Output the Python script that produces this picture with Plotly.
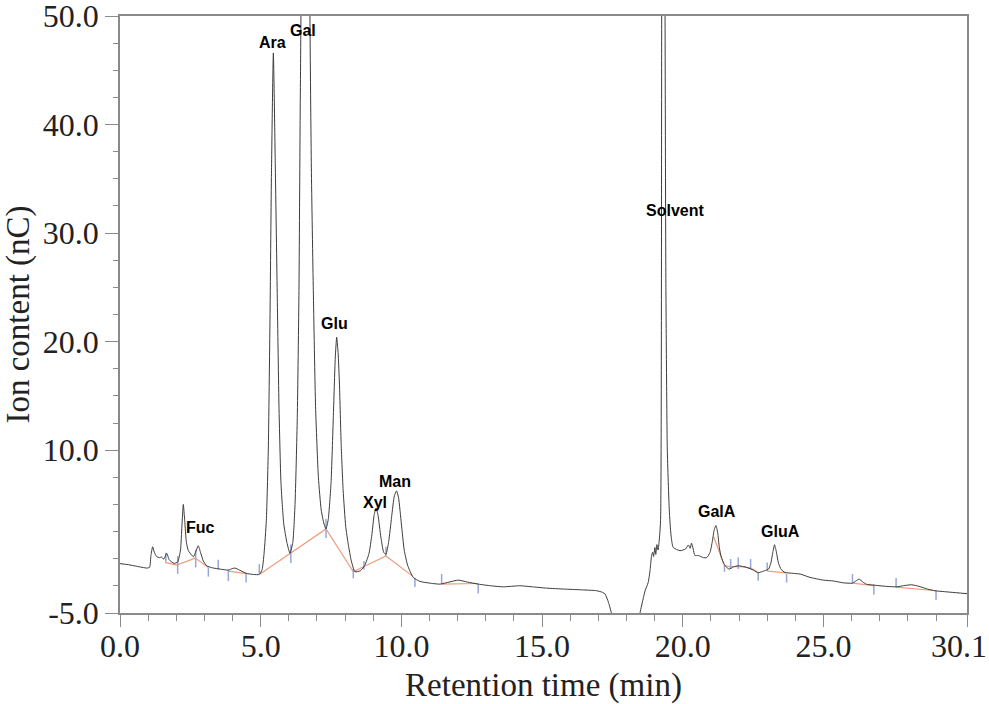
import plotly.graph_objects as go

# chromatogram signal (time in min, ion content in nC)
time_min = [0.00, 0.30, 0.60, 0.95, 1.05, 1.10, 1.16, 1.22, 1.30, 1.40, 1.48, 1.55, 1.66, 1.75, 1.92,
            2.05, 2.15, 2.20, 2.25, 2.30, 2.36, 2.43, 2.61, 2.70, 2.78, 2.86, 2.96, 3.08, 3.30, 3.55,
            3.85, 4.00, 4.09, 4.25, 4.50, 4.75, 4.95,
            5.05, 5.12, 5.20, 5.27, 5.33, 5.38, 5.45, 5.52, 5.59, 5.65, 5.72, 5.82, 5.93, 6.04,
            6.14, 6.22, 6.30, 6.36, 6.40, 6.43, 6.50, 6.60, 6.70, 6.75, 6.80, 6.87, 6.95, 7.05,
            7.15, 7.25, 7.32,
            7.40, 7.50, 7.58, 7.65, 7.70, 7.75, 7.80, 7.86, 7.93, 8.02, 8.11, 8.22, 8.35,
            8.55, 8.70, 8.85, 8.95, 9.03, 9.10, 9.17, 9.27, 9.37, 9.45,
            9.55, 9.65, 9.75, 9.83, 9.90, 10.00, 10.10, 10.22, 10.42, 10.66, 11.10, 11.37,
            11.70, 12.02, 12.35, 12.73, 13.20, 13.62, 14.21, 14.70, 15.16, 15.80, 16.35, 16.94,
            17.15, 17.24, 17.36, 17.47, 17.60, 18.00, 18.35, 18.48, 18.60, 18.66, 18.77, 18.84,
            18.89, 18.93, 18.96, 19.01, 19.04, 19.08, 19.12, 19.16, 19.21, 19.25, 19.28, 19.33,
            19.37, 19.40, 19.45, 19.52, 19.58, 19.66, 19.90, 20.10, 20.20, 20.26, 20.31, 20.37,
            20.43, 20.55, 20.73, 20.85, 20.97, 21.05, 21.12, 21.18, 21.24, 21.30, 21.37, 21.46,
            21.56, 21.65, 21.80, 21.97, 22.15, 22.27, 22.51, 22.68, 22.80, 22.92, 23.05, 23.13,
            23.20, 23.26, 23.32, 23.40, 23.50, 23.63, 23.93, 24.17, 24.52, 24.99, 25.35, 25.70,
            26.03, 26.15, 26.27, 26.40, 26.53, 26.77, 27.25, 27.60, 27.85, 28.13, 28.40, 28.70,
            28.96, 29.50, 30.10]
signal_nc = [-0.45, -0.55, -0.70, -0.86, -0.80, 0.30, 1.10, 0.60, 0.20, 0.10, 0.15, -0.05, 0.50, -0.10, -0.43,
             -0.30, 0.80, 3.00, 5.00, 3.50, 1.50, 0.74, 0.18, 0.70, 1.20, 0.60, -0.20, -0.65, -0.85, -0.95,
             -1.05, -0.90, -0.86, -1.05, -1.36, -1.45, -1.45,
             -1.00, 0.50, 3.50, 10.0, 22.0, 35.0, 46.6, 36.0, 24.0, 14.0, 7.0, 3.2, 1.5, 0.50,
             1.5, 5.0, 13.0, 24.7, 40.0, 50.0, 80.0, 95.0, 80.0, 50.0, 36.0, 24.7, 14.0, 7.5,
             4.5, 3.2, 2.74,
             3.6, 7.0, 13.0, 18.5, 20.4, 19.0, 16.0, 10.5, 6.3, 3.0, 1.36, -0.20, -1.20,
             -1.10, -0.60, 0.50, 2.20, 4.00, 4.68, 4.00, 2.00, 0.60, 0.40,
             1.60, 3.80, 5.80, 6.25, 5.60, 3.20, 0.80, -0.60, -1.72, -2.09, -2.28, -2.34,
             -2.15, -1.97, -2.15, -2.34, -2.50, -2.59, -2.49, -2.60, -2.71, -2.80, -2.86, -2.95,
             -3.10, -3.26, -4.03, -5.10, -8.0, -10.0, -8.0, -5.0, -3.6, -2.95, -2.19, -1.0,
             0.28, 0.60, 0.20, 1.04, 0.40, 1.30, 0.80, 1.60, 3.50, 50.0, 95.0, 100.0,
             50.0, 25.0, 10.0, 4.5, 2.2, 1.04, 0.74, 0.90, 1.27, 0.96, 1.43, 0.90,
             0.30, 0.30, 0.10, 0.10, 0.60, 1.60, 2.70, 3.05, 2.40, 1.00, 0.12, -0.45,
             -0.80, -0.95, -0.75, -0.65, -0.72, -0.80, -1.05, -1.30, -1.20, -1.10, -0.95, -0.40,
             0.60, 1.29, 0.70, -0.40, -1.00, -1.26, -1.35, -1.41, -1.72, -1.97, -2.05, -2.22,
             -2.25, -2.05, -1.88, -2.15, -2.35, -2.43, -2.55, -2.59, -2.48, -2.40, -2.55, -2.80,
             -2.95, -3.08, -3.22]

# integration baselines (None = break between segments)
base_t = [1.60, 2.01, 2.67, 3.14, None, 3.85, 4.48, None,
          4.98, 6.04, 7.32, 8.29, None, 8.29, 9.45, 10.42, None,
          11.43, 12.73, None,
          21.10, 21.48, 21.70, 21.97, 22.41, 22.68, None, 23.00, 23.69, None,
          26.03, 26.79, None, 27.58, 29.00]
base_v = [-0.34, -0.58, 0.06, -0.80, None, -1.15, -1.38, None,
          -1.40, 0.45, 2.75, -1.20, None, -1.20, 0.25, -1.65, None,
          -2.34, -2.28, None,
          2.00, -0.62, -0.75, -0.70, -0.85, -1.26, None, -1.15, -1.30, None,
          -2.25, -2.47, None, -2.62, -2.95]

# peak start / end markers: time, top, bottom
mark_t = [1.63, 2.05, 2.69, 3.14, 3.49, 3.85, 4.48, 4.95, 6.07, 7.32, 8.29, 8.67, 9.45, 10.48,
          11.43, 12.73, 21.48, 21.70, 21.97, 22.41, 22.68, 23.00, 23.69, 26.03, 26.79, 27.58, 29.00]
mark_top = [0.56, 0.26, 0.80, -0.80, -0.10, -1.00, -1.30, -0.50, 1.30, 3.65, -0.90, -0.20, 1.10, -1.75,
            -1.40, -2.30, -0.60, -0.03, 0.12, -0.03, -1.26, -0.34, -1.41, -1.41, -2.34, -1.78, -2.90]
mark_bot = [-0.27, -1.40, -0.80, -1.65, -1.00, -2.05, -2.20, -1.40, -0.40, 1.90, -1.80, -1.00, 0.20, -2.60,
            -2.30, -3.20, -1.20, -0.95, -0.95, -0.95, -2.03, -1.10, -2.19, -2.28, -3.32, -2.65, -3.80]

peak_names = ["Fuc", "Ara", "Gal", "Glu", "Xyl", "Man", "Solvent", "GalA", "GluA"]
label_t = [2.87, 5.42, 6.51, 7.62, 9.05, 9.76, 19.74, 21.22, 23.47]
label_v = [2.90, 47.53, 48.67, 21.71, 5.19, 7.09, 32.07, 4.34, 2.49]

x_ticks = [0, 5, 10, 15, 20, 25, 30.1]
x_ticktext = ["0.0", "5.0", "10.0", "15.0", "20.0", "25.0", "30.1\u2002"]  # last one nudged left to fit
x_minor = [1, 2, 3, 4, 6, 7, 8, 9, 11, 12, 13, 14, 16, 17, 18, 19, 21, 22, 23, 24, 26, 27, 28, 29]
y_ticks = [-5, 10, 20, 30, 40, 50]
y_ticktext = ["-5.0", "10.0", "20.0", "30.0", "40.0", "50.0"]
y_minor = [-2.5, 0, 2.5, 5, 7.5, 12.5, 15, 17.5, 22.5, 25, 27.5, 32.5, 35, 37.5, 42.5, 45, 47.5]

mx, my = [], []
for t, a, b in zip(mark_t, mark_top, mark_bot):
    mx += [t, t, None]
    my += [a, b, None]

fig = go.Figure()
fig.add_trace(go.Scatter(x=base_t, y=base_v, mode="lines", connectgaps=False,
                         line=dict(color="#f09c7c", width=1.2), showlegend=False))
fig.add_trace(go.Scatter(x=mx, y=my, mode="lines", line=dict(color="#9aa6d6", width=1.5),
                         showlegend=False))
fig.add_trace(go.Scatter(x=time_min, y=signal_nc, mode="lines",
                         line=dict(color="#3c3c3c", width=1, shape="spline", smoothing=0.5),
                         showlegend=False))

for name, t, v in zip(peak_names, label_t, label_v):
    fig.add_annotation(x=t, y=v, text="<b>%s</b>" % name, showarrow=False,
                       font=dict(family="Liberation Sans, Arial", size=16, color="black"))

axis_common = dict(showline=True, linecolor="#8a8a8a", linewidth=1.5, mirror=True,
                   showgrid=False, zeroline=False, ticks="outside", tickcolor="#8a8a8a",
                   tickwidth=1.2, automargin=False, ticklabeloverflow="allow",
                   tickfont=dict(family="Liberation Serif", size=32, color="#222"))

fig.update_xaxes(range=[0, 30.1001], tickmode="array", tickvals=x_ticks, ticktext=x_ticktext,
                 ticklen=12, ticklabelstandoff=-8,
                 minor=dict(tickmode="array", tickvals=x_minor, ticks="outside", ticklen=6,
                            tickcolor="#8a8a8a", tickwidth=1.2),
                 title=dict(text="Retention time (min)", standoff=20,
                            font=dict(family="Liberation Serif", size=33, color="#222")),
                 **axis_common)
fig.update_yaxes(range=[-5, 50.001], tickmode="array", tickvals=y_ticks, ticktext=y_ticktext,
                 ticklen=13,
                 minor=dict(tickmode="array", tickvals=y_minor, ticks="outside", ticklen=5,
                            tickcolor="#8a8a8a", tickwidth=1.2),
                 title=dict(text="Ion content (nC)", standoff=10,
                            font=dict(family="Liberation Serif", size=33, color="#222")),
                 **axis_common)

fig.update_layout(width=989, height=704, plot_bgcolor="white", paper_bgcolor="white",
                  margin=dict(l=120, r=22, t=16, b=91), showlegend=False)

# page body has a default 8px margin; drop it so the figure sits at the window corner
fig.write_html("out.html", config={"displayModeBar": False},
               post_script="document.body.style.margin='0';")
